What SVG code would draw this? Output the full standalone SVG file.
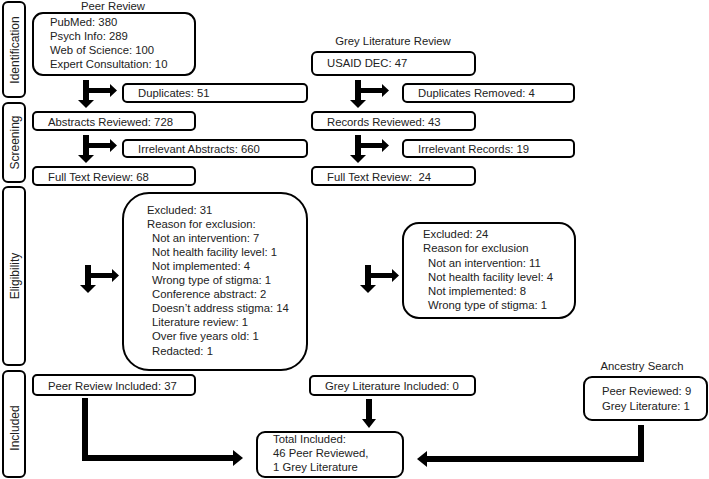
<svg xmlns="http://www.w3.org/2000/svg" width="709" height="479" viewBox="0 0 709 479">
<style>
.box{fill:#fff;stroke:#000;stroke-width:2}
.t{font-family:"Liberation Sans",Arial,sans-serif;font-size:11.3px;fill:#222}
.side{font-family:"Liberation Sans",Arial,sans-serif;font-size:12px;fill:#222;text-anchor:middle}
.hdr{font-family:"Liberation Sans",Arial,sans-serif;font-size:11.3px;fill:#222;text-anchor:middle}
.arr{fill:#000}
</style>
<defs>
<path id="tee" d="M0,0 h6 v8 h21 v-4 l7,6.5 l-7,6.5 v-4 h-21 v7 h5 l-8,8 l-8,-8 h5 z"/>
</defs>

<g id="stage-identification"><rect class="box" x="3" y="2" width="22" height="95" rx="5"/><text class="side" transform="translate(19,50) rotate(-90)">Identification</text></g>
<g id="stage-screening"><rect class="box" x="3" y="103" width="22" height="79" rx="5"/><text class="side" transform="translate(19,142.5) rotate(-90)">Screening</text></g>
<g id="stage-eligibility"><rect class="box" x="3" y="187" width="22" height="178" rx="5"/><text class="side" transform="translate(19,276) rotate(-90)">Eligibility</text></g>
<g id="stage-included"><rect class="box" x="3" y="371" width="22" height="106" rx="5"/><text class="side" transform="translate(19,428) rotate(-90)">Included</text></g>

<g id="peer-sources">
<text class="hdr" x="113" y="10">Peer Review</text>
<rect class="box" x="33" y="13" width="162" height="62" rx="10"/>
<text class="t" x="50" y="26">PubMed: 380</text>
<text class="t" x="50" y="40">Psych Info: 289</text>
<text class="t" x="50" y="54">Web of Science: 100</text>
<text class="t" x="50" y="68">Expert Consultation: 10</text>
</g>
<g id="peer-duplicates"><rect class="box" x="123" y="84" width="184" height="18" rx="4"/><text class="t" x="138" y="97">Duplicates: 51</text></g>
<g id="peer-abstracts"><rect class="box" x="33" y="112" width="162" height="18" rx="4"/><text class="t" x="48" y="125.5">Abstracts Reviewed: 728</text></g>
<g id="peer-irrelevant"><rect class="box" x="123" y="140" width="184" height="17" rx="4"/><text class="t" x="138" y="153">Irrelevant Abstracts: 660</text></g>
<g id="peer-fulltext"><rect class="box" x="33" y="167" width="162" height="18" rx="4"/><text class="t" x="48" y="180.5">Full Text Review: 68</text></g>
<g id="peer-excluded">
<rect class="box" x="123" y="193" width="184" height="177" rx="26"/>
<text class="t" x="147" y="214">Excluded: 31</text>
<text class="t" x="147" y="228">Reason for exclusion:</text>
<text class="t" x="152" y="242">Not an intervention: 7</text>
<text class="t" x="152" y="256">Not health facility level: 1</text>
<text class="t" x="152" y="270">Not implemented: 4</text>
<text class="t" x="152" y="284">Wrong type of stigma: 1</text>
<text class="t" x="152" y="298">Conference abstract: 2</text>
<text class="t" x="152" y="312">Doesn’t address stigma: 14</text>
<text class="t" x="152" y="326">Literature review: 1</text>
<text class="t" x="152" y="340">Over five years old: 1</text>
<text class="t" x="152" y="355">Redacted: 1</text>
</g>
<g id="peer-included"><rect class="box" x="33" y="375" width="162" height="20" rx="4"/><text class="t" x="48" y="389.5">Peer Review Included: 37</text></g>

<g id="grey-sources">
<text class="hdr" x="393" y="45">Grey Literature Review</text>
<rect class="box" x="312" y="52" width="163" height="23" rx="5"/>
<text class="t" x="327" y="67">USAID DEC: 47</text>
</g>
<g id="grey-duplicates"><rect class="box" x="403" y="84" width="171" height="18" rx="4"/><text class="t" x="418" y="97">Duplicates Removed: 4</text></g>
<g id="grey-records"><rect class="box" x="312" y="112" width="163" height="18" rx="4"/><text class="t" x="327" y="125.5">Records Reviewed: 43</text></g>
<g id="grey-irrelevant"><rect class="box" x="403" y="140" width="171" height="17" rx="4"/><text class="t" x="418" y="153">Irrelevant Records: 19</text></g>
<g id="grey-fulltext"><rect class="box" x="312" y="167" width="163" height="18" rx="4"/><text class="t" x="327" y="181" xml:space="preserve">Full Text Review:  24</text></g>
<g id="grey-excluded">
<rect class="box" x="403" y="223" width="172" height="95" rx="16"/>
<text class="t" x="423" y="238">Excluded: 24</text>
<text class="t" x="423" y="252">Reason for exclusion</text>
<text class="t" x="428" y="267">Not an intervention: 11</text>
<text class="t" x="428" y="281">Not health facility level: 4</text>
<text class="t" x="428" y="295">Not implemented: 8</text>
<text class="t" x="428" y="309">Wrong type of stigma: 1</text>
</g>
<g id="grey-included"><rect class="box" x="310" y="376" width="165" height="19" rx="4"/><text class="t" x="325" y="390">Grey Literature Included: 0</text></g>

<g id="ancestry">
<text class="hdr" x="642" y="370">Ancestry Search</text>
<rect class="box" x="584" y="377" width="123" height="43" rx="8"/>
<text class="t" x="602" y="395">Peer Reviewed: 9</text>
<text class="t" x="602" y="410">Grey Literature: 1</text>
</g>
<g id="total"><rect class="box" x="257" y="432" width="146" height="45" rx="8"/>
<text class="t" x="273" y="443">Total Included:</text>
<text class="t" x="273" y="457">46 Peer Reviewed,</text>
<text class="t" x="273" y="471">1 Grey Literature</text>
</g>

<g id="connectors">
<use href="#tee" class="arr" x="83" y="80"/>
<use href="#tee" class="arr" x="83" y="135"/>
<use href="#tee" class="arr" x="355" y="80"/>
<use href="#tee" class="arr" x="355" y="135"/>
<use href="#tee" class="arr" x="85" y="265"/>
<use href="#tee" class="arr" x="365" y="265"/>
<path class="arr" d="M82,398 h6 v57 h145 v-5 l10,8 l-10,8 v-5 h-151 z"/>
<path class="arr" d="M366,399 h6 v20 h4 l-7,9 l-7,-9 h4 z"/>
<path class="arr" d="M638,425 h6 v37 h-217 v5 l-10,-8 l10,-8 v5 h211 z"/>
</g>
</svg>
